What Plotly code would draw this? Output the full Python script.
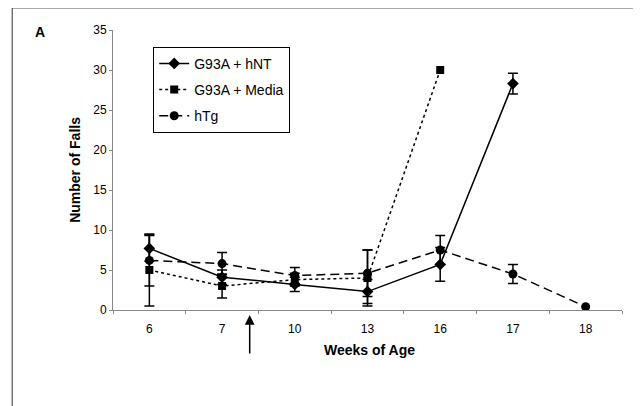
import plotly.graph_objects as go

weeks = ["6", "7", "10", "13", "16", "17", "18"]

hnt_weeks = ["6", "7", "10", "13", "16", "17"]
hnt_vals = [7.7, 4.1, 3.2, 2.3, 5.7, 28.3]
hnt_err = [1.6, 0.9, 0.9, 1.5, 2.1, 1.3]

# last point (week 16) has no error bar
media_weeks = ["6", "7", "10", "13", "16"]
media_vals = [5.0, 3.0, 3.8, 4.0, 30.0]
media_err = [4.5, 1.5, 0.8, 3.5]

# last point (week 18) has no error bar
htg_weeks = ["6", "7", "10", "13", "16", "17", "18"]
htg_vals = [6.2, 5.8, 4.3, 4.6, 7.5, 4.5, 0.4]
htg_err = [3.2, 1.4, 1.0, 2.9, 1.8, 1.2]

arrow_pos = 1.38  # between week 7 and week 10 categories

font_family = "Liberation Sans, Arial, sans-serif"

fig = go.Figure()

def add(name, x, y, err, dash, symbol, size, group):
    fig.add_trace(go.Scatter(
        x=x, y=y, name=name, mode="lines+markers",
        line=dict(color="black", width=1.5, dash=dash),
        marker=dict(symbol=symbol, size=size, color="black"),
        error_y=dict(type="data", array=err, visible=True, color="black",
                     thickness=1.5, width=5),
        legendgroup=group,
    ))

add("G93A + hNT", hnt_weeks, hnt_vals, hnt_err, "solid", "diamond", 9, "a")
add("G93A + Media", media_weeks, media_vals, media_err, "dot", "square", 8, "b")
add("hTg", htg_weeks, htg_vals, htg_err, "9px,5px", "circle", 9, "c")

fig.update_layout(
    width=633, height=398,
    margin=dict(l=105, r=19, t=22, b=96),
    paper_bgcolor="white", plot_bgcolor="white",
    font=dict(family=font_family, color="black", size=12),
    showlegend=True,
    legend=dict(
        x=0.079, y=0.94, xanchor="left", yanchor="top",
        bgcolor="white", bordercolor="black", borderwidth=1,
        font=dict(size=14, family=font_family),
        traceorder="grouped", tracegroupgap=5,
    ),
    xaxis=dict(
        type="category", categoryorder="array", categoryarray=weeks,
        range=[-0.5, 6.5], showgrid=False, zeroline=False,
        showline=True, linecolor="#888888", linewidth=1,
        ticks="outside", tickson="boundaries", ticklen=3, tickcolor="#888888",
        ticklabelstandoff=8, tickfont=dict(size=12),
    ),
    yaxis=dict(
        range=[0, 35], tickvals=[0, 5, 10, 15, 20, 25, 30, 35],
        showgrid=False, zeroline=False,
        showline=True, linecolor="#888888", linewidth=1,
        ticks="outside", ticklen=3, tickcolor="#888888",
        tickfont=dict(size=12),
    ),
    annotations=[
        dict(text="<b>Number of Falls</b>", xref="paper", yref="paper",
             x=-0.075, y=0.5, xanchor="center", yanchor="middle",
             textangle=-90, showarrow=False, font=dict(size=14)),
        dict(text="<b>Weeks of Age</b>", xref="paper", yref="paper",
             x=0.503, y=-0.143, xanchor="center", yanchor="middle",
             showarrow=False, font=dict(size=14)),
        dict(text="<b>A</b>", xref="paper", yref="paper",
             x=-0.143, y=0.993, xanchor="center", yanchor="middle",
             showarrow=False, font=dict(size=14)),
        dict(text="", xref="x", yref="paper", x=arrow_pos, y=-0.018,
             showarrow=True, ax=0, ay=40, arrowhead=2, arrowsize=1.3,
             arrowwidth=1.5, arrowcolor="black"),
    ],
    shapes=[
        dict(type="rect", xref="paper", yref="paper",
             x0=-0.198, x1=1.033, y0=-0.5, y1=1.079,
             line=dict(color="#555555", width=1.2)),
    ],
)

fig.write_html("out.html")
